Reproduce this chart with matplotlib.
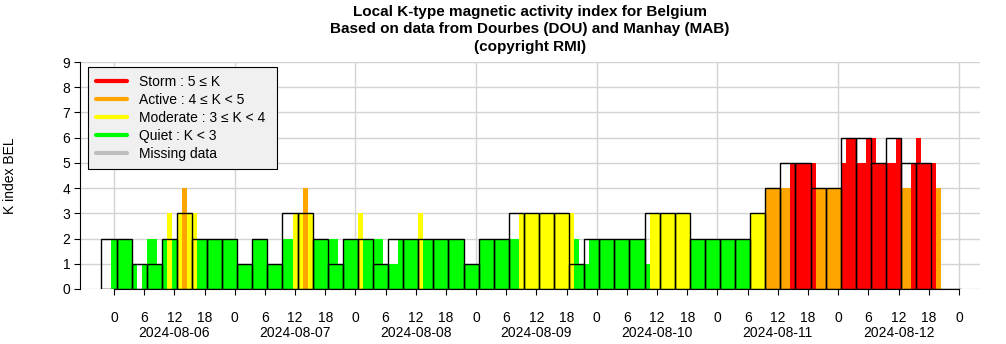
import numpy as np
import matplotlib.pyplot as plt
from matplotlib.lines import Line2D
from matplotlib.transforms import blended_transform_factory

plt.rcParams['font.family'] = ['Liberation Sans', 'DejaVu Sans']

days = ['2024-08-06', '2024-08-07', '2024-08-08', '2024-08-09',
        '2024-08-10', '2024-08-11', '2024-08-12']

# 3-hourly K (block k covers hours 3k+1 .. 3k+3), first block is k = -1
k3_first = -1
k3 = [2,
      2, 1, 1, 2, 3, 2, 2, 2,
      1, 2, 1, 3, 3, 2, 1, 2,
      2, 1, 2, 2, 2, 2, 2, 1,
      2, 2, 3, 3, 3, 3, 1, 2,
      2, 2, 2, 3, 3, 3, 2, 2,
      2, 2, 3, 4, 5, 5, 4, 4,
      6, 6, 5, 6, 5, 5, 0, 0]

# hourly running K, starting at hour 0 of the first day
k1 = [2, 2, 2, 2, 1, 0, 1, 2, 2, 1, 2, 3, 2, 3, 4, 3, 3, 2, 2, 2, 2, 2, 2, 2,
      2, 1, 1, 1, 2, 2, 2, 1, 1, 1, 2, 2, 3, 3, 4, 3, 2, 2, 2, 2, 2, 1, 2, 2,
      2, 3, 2, 2, 2, 2, 1, 1, 1, 2, 2, 2, 2, 3, 2, 2, 2, 2, 2, 2, 2, 2, 1, 1,
      1, 2, 2, 2, 2, 2, 2, 2, 2, 3, 3, 3, 3, 3, 3, 3, 3, 3, 3, 3, 2, 1, 1, 2,
      2, 2, 2, 2, 2, 2, 2, 2, 2, 2, 1, 3, 3, 3, 3, 3, 3, 3, 3, 2, 2, 2, 2, 2,
      2, 2, 2, 2, 2, 2, 2, 3, 3, 3, 4, 4, 4, 4, 4, 5, 5, 5, 5, 5, 4, 4, 4, 4,
      4, 5, 6, 6, 5, 5, 6, 6, 5, 5, 5, 5, 6, 4, 4, 5, 6, 5, 5, 5, 4]

level_names = ['Storm : 5 \u2264 K', 'Active : 4 \u2264 K < 5',
               'Moderate : 3 \u2264 K < 4', 'Quiet : K < 3', 'Missing data']
level_colors = ['#FF0000', '#FFA500', '#FFFF00', '#00FF00', '#BEBEBE']


def kcolor(k):
    if k >= 5:
        return level_colors[0]
    if k >= 4:
        return level_colors[1]
    if k >= 3:
        return level_colors[2]
    return level_colors[3]


fig = plt.figure(figsize=(10.06, 3.44), dpi=100)
ax = fig.add_axes([80/1006, 1-289/344, 900/1006, 227/344])

hours = np.arange(len(k1))
ax.bar(hours, k1, width=1.0, color=[kcolor(k) for k in k1],
       linewidth=0, zorder=2)

blocks = np.arange(k3_first, k3_first + len(k3))
ax.bar(3*blocks + 2, k3, width=3, fill=False, edgecolor='black',
       linewidth=1.0, zorder=3)

ndays = len(days)
ax.set_xlim(-6.76, 172.2)
ax.set_ylim(0, 9)

# grid: every K level, vertical line at each midnight
ax.set_yticks(range(10))
ax.yaxis.grid(True, color='#D3D3D3', linewidth=1.0, zorder=0)
for d in range(ndays + 1):
    ax.axvline(24*d, color='#D3D3D3', linewidth=1.0, zorder=0)
ax.set_axisbelow(True)

ax.set_xticks(np.arange(0, 24*ndays + 1, 6))
ax.set_xticklabels([str(t % 24) for t in range(0, 24*ndays + 1, 6)])
ax.tick_params(axis='x', length=4.5, width=0.8, pad=11, labelsize=10)
ax.tick_params(axis='y', length=4, width=0.8, pad=3, labelsize=10)

trans = blended_transform_factory(ax.transData, ax.transAxes)
for d, day in enumerate(days):
    ax.text(24*d + 12, -0.194, day, transform=trans, ha='center',
            va='center', fontsize=10)

for s in ['top', 'right']:
    ax.spines[s].set_visible(False)
ax.spines['bottom'].set_bounds(0, 24*ndays)
ax.spines['left'].set_bounds(0, 9)
ax.spines['bottom'].set_linewidth(0.8)
ax.spines['left'].set_linewidth(0.8)

ax.set_ylabel('K index BEL', fontsize=10)
ax.yaxis.set_label_coords(-0.07, 0.5)

# legend box: left edge 8 px in, top 5 px below the K=9 line, 189 px wide
leg_top = 1 - 5/227
handles = [Line2D([0], [0], color=c, linewidth=3, solid_capstyle='round')
           for c in level_colors]
leg = ax.legend(handles, level_names, loc='upper left',
                bbox_to_anchor=(8/900, leg_top - 0.5, 189/900, 0.5),
                mode='expand', fontsize=10, frameon=True, fancybox=False,
                borderpad=0.6, handlelength=2.2, handletextpad=0.85,
                labelspacing=0.28, borderaxespad=0)
leg.get_frame().set_facecolor('#F0F0F0')
leg.get_frame().set_edgecolor('black')
leg.get_frame().set_linewidth(0.8)
leg.get_frame().set_alpha(1)
leg.set_zorder(5)

title_lines = ['Local K-type magnetic activity index for Belgium',
               'Based on data from Dourbes (DOU) and Manhay (MAB)',
               '(copyright RMI)']
for i, line in enumerate(title_lines):
    fig.text(530/1006, 1 - (12 + 17.5*i)/344, line, ha='center',
             va='center', fontsize=11, fontweight='bold')

fig.savefig('out.png', dpi=100)
